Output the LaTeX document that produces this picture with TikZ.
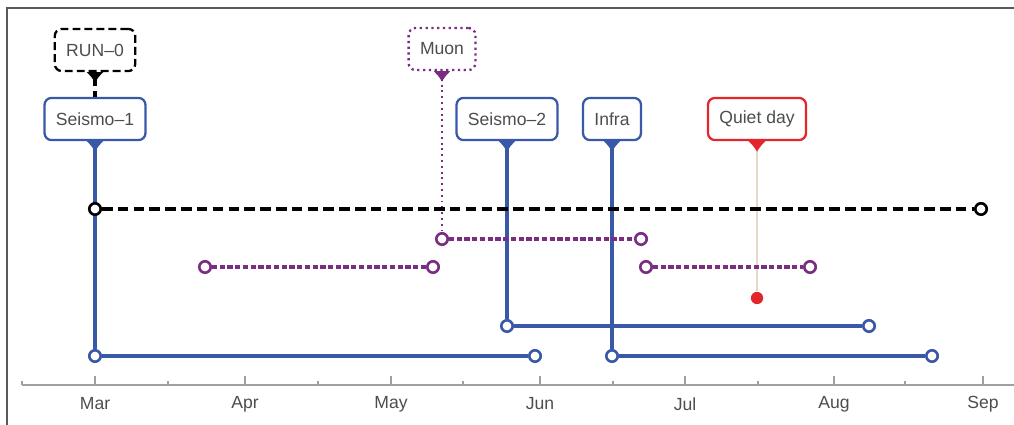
\documentclass[tikz,border=0pt]{standalone}
\usepackage{fontspec}
\setmainfont{Liberation Sans}
\usetikzlibrary{arrows.meta}
\definecolor{runblue}{HTML}{3A58A8}
\definecolor{muonpurple}{HTML}{7A2E82}
\definecolor{quietred}{HTML}{E3262B}
\definecolor{quietline}{HTML}{E6D9CC}
\definecolor{labelgray}{HTML}{4D4D4D}
\definecolor{axisgray}{HTML}{A0A0A0}
\definecolor{framegray}{HTML}{5A5A5A}
\begin{document}
\begin{tikzpicture}[x=0.02cm, y=-0.02cm,
	tag/.style={draw=#1, rounded corners=4pt, fill=white, line width=1.3pt, minimum height=24pt, inner xsep=6.5pt, text=labelgray},
	endpt/.style={circle, draw=#1, fill=white, line width=1.5pt, minimum size=6.5pt, inner sep=0pt},
	pointer/.style={arrows={Latex[reversed, length=6pt, width=10pt]-}},
	seisline/.style={runblue, line width=2pt},
	muonline/.style={muonpurple, line width=2pt, dash pattern=on 3pt off 1.4pt},
	runline/.style={black, line width=2pt, dash pattern=on 6pt off 3pt}]
	\useasboundingbox (0,0) rectangle (1014,425);
	% frame and time axis
	\draw[framegray, line width=1pt] (7,425) -- (7,8) -- (1014,8);
	\draw[axisgray, line width=0.8pt] (22,385) -- (1014,385);
	\foreach \x/\m in {95/Mar,245/Apr,391/May,540/Jun,685/Jul,834/Aug,983/Sep}
		\draw[axisgray, line width=0.8pt] (\x,385) -- (\x,376) node (m\m) at (\x,404) [text=labelgray] {\m};
	\foreach \x in {22,168,318,463,613,758,905}
		\draw[axisgray, line width=0.8pt] (\x,385) -- (\x,381);
	% tags
	\node (seis1) at (95,119) [tag=runblue] {Seismo--1};
	\node (seis2) at (507,119) [tag=runblue] {Seismo--2};
	\node (infra) at (612,119) [tag=runblue] {Infra};
	\node (quiet) at (757,119) [tag=quietred] {Quiet day};
	\node (run0) at (95,50) [tag=black, dash pattern=on 4.5pt off 2.3pt] {RUN--0};
	\node (muon) at (442,49) [tag=muonpurple, dash pattern=on 1.3pt off 2pt] {Muon};
	\draw[pointer, black, line width=2pt, dash pattern=on 4pt off 3pt] (run0) -- (seis1);
	% seismic and infrasound runs
	\node (s1a) at (95,356) [endpt=runblue] {};
	\node (s1b) at (535,356) [endpt=runblue] {};
	\node (s2a) at (507,326) [endpt=runblue] {};
	\node (s2b) at (869,326) [endpt=runblue] {};
	\node (ina) at (612,356) [endpt=runblue] {};
	\node (inb) at (932,356) [endpt=runblue] {};
	\draw[pointer, seisline] (seis1) -- (s1a);
	\draw[seisline] (s1a) -- (s1b);
	\draw[pointer, seisline] (seis2) -- (s2a);
	\draw[seisline] (s2a) -- (s2b);
	\draw[pointer, seisline] (infra) -- (ina);
	\draw[seisline] (ina) -- (inb);
	% quiet day
	\node (qdot) at (757,298) [circle, fill=quietred, minimum size=7pt, inner sep=0pt] {};
	\draw[arrows={Latex[reversed, length=6pt, width=10pt, color=quietred]-}, quietline, line width=0.8pt] (quiet) -- (qdot);
	% muon runs
	\node (mu1a) at (442,239) [endpt=muonpurple] {};
	\node (mu1b) at (641,239) [endpt=muonpurple] {};
	\node (mu2a) at (205,267) [endpt=muonpurple] {};
	\node (mu2b) at (433,267) [endpt=muonpurple] {};
	\node (mu3a) at (646,267) [endpt=muonpurple] {};
	\node (mu3b) at (810,267) [endpt=muonpurple] {};
	\draw[pointer, muonpurple, line width=1.1pt, dash pattern=on 1.1pt off 2.2pt] (muon) -- (mu1a);
	\draw[muonline] (mu1a) -- (mu1b);
	\draw[muonline] (mu2a) -- (mu2b);
	\draw[muonline] (mu3a) -- (mu3b);
	% reference run
	\node (r0a) at (95,209) [endpt=black] {};
	\node (r0b) at (981,209) [endpt=black] {};
	\draw[runline] (r0a) -- (r0b);
\end{tikzpicture}
\end{document}
